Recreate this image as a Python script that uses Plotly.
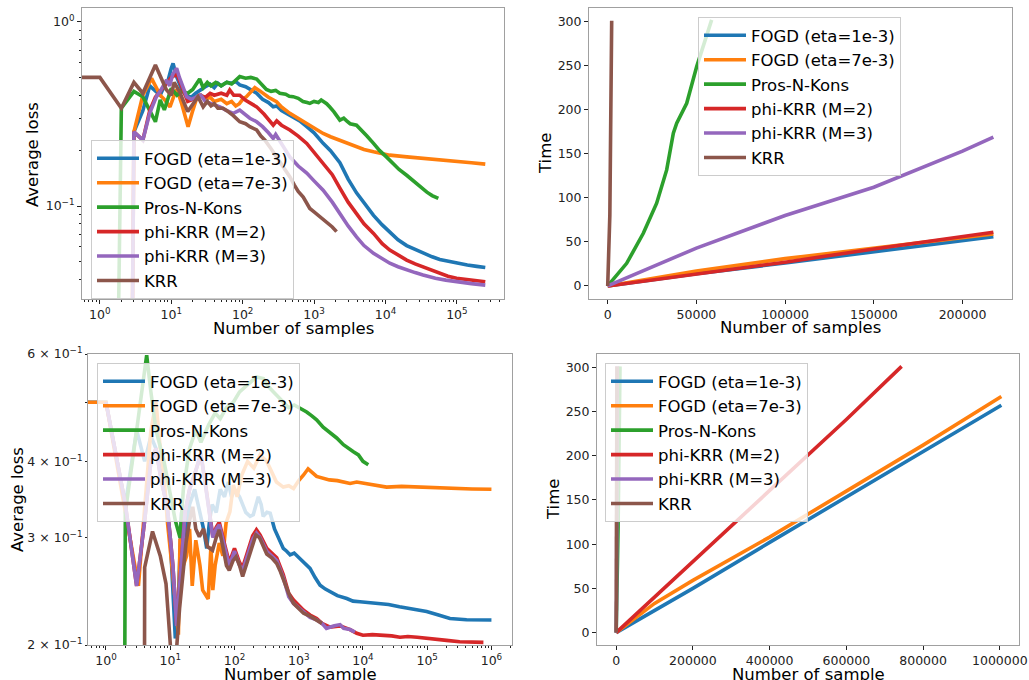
import plotly.graph_objects as go

NAMES = ["FOGD (eta=1e-3)", "FOGD (eta=7e-3)", "Pros-N-Kons", "phi-KRR (M=2)", "phi-KRR (M=3)", "KRR"]
COLORS = ["#1f77b4", "#ff7f0e", "#2ca02c", "#d62728", "#9467bd", "#8c564b"]
ZERO = 1e-9  # zero loss values (drawn as vertical drops on log axis)

# ---------------- Top-left: Average loss vs Number of samples ----------------
tl_fogd1_x = [3, 4, 5, 6, 7, 8, 9, 10, 10.6, 12, 14, 16, 19, 22, 26, 30, 35, 40, 45, 50, 60, 70, 80, 91, 110, 130, 157, 190, 230, 268, 300, 350, 400, 458, 530, 630, 790, 1000, 1340, 1700, 2300, 3000, 3930, 5000, 6800, 9000, 11500, 15000, 19800, 26000, 33600, 45000, 57600, 75000, 99000, 140000, 190000, 250000]
tl_fogd1_y = [0.253, 0.33, 0.45, 0.42, 0.40, 0.45, 0.48, 0.56, 0.596, 0.50, 0.43, 0.40, 0.39, 0.41, 0.43, 0.445, 0.46, 0.44, 0.465, 0.45, 0.47, 0.465, 0.475, 0.455, 0.445, 0.43, 0.41, 0.38, 0.365, 0.346, 0.35, 0.33, 0.32, 0.312, 0.30, 0.29, 0.27, 0.25, 0.219, 0.20, 0.172, 0.14, 0.118, 0.104, 0.089, 0.079, 0.072, 0.0655, 0.061, 0.058, 0.0553, 0.053, 0.0512, 0.050, 0.0489, 0.0478, 0.047, 0.0464]

tl_fogd7_x = [2, 3, 4, 5.3, 6, 7, 8, 9.6, 11, 12, 14, 17.2, 20, 22.7, 26, 30, 35, 40, 50, 60, 70, 80, 90, 100, 113, 130, 148, 170, 194, 230, 298, 350, 458, 600, 790, 1000, 1340, 1700, 2300, 3000, 3930, 5000, 6800, 9000, 11500, 20000, 33600, 60000, 99000, 160000, 250000]
tl_fogd7_y = [ZERO, 0.253, 0.40, 0.494, 0.45, 0.40, 0.38, 0.346, 0.40, 0.43, 0.36, 0.27, 0.33, 0.385, 0.40, 0.38, 0.39, 0.37, 0.38, 0.36, 0.37, 0.35, 0.36, 0.38, 0.393, 0.42, 0.44, 0.425, 0.41, 0.39, 0.369, 0.345, 0.319, 0.30, 0.282, 0.265, 0.248, 0.238, 0.228, 0.218, 0.21, 0.203, 0.197, 0.193, 0.189, 0.185, 0.182, 0.179, 0.176, 0.172, 0.169]

tl_pnk_x = [1, 2, 3, 4, 5, 6, 7, 8, 10, 12, 14, 17, 20, 25, 28, 32, 36, 42, 50, 60, 70, 80, 91, 110, 130, 157, 185, 215, 250, 290, 331, 400, 450, 510, 600, 700, 800, 872, 1000, 1150, 1260, 1500, 1650, 1900, 2300, 2600, 2860, 3200, 3930, 4800, 5500, 6800, 8300, 10300, 12900, 15500, 19800, 24500, 30600, 38000, 45000, 51700, 55000]
tl_pnk_y = [ZERO, 0.34, 0.42, 0.393, 0.33, 0.287, 0.377, 0.333, 0.436, 0.40, 0.42, 0.41, 0.43, 0.49, 0.44, 0.47, 0.45, 0.47, 0.45, 0.47, 0.46, 0.48, 0.505, 0.495, 0.50, 0.49, 0.46, 0.43, 0.42, 0.425, 0.41, 0.405, 0.395, 0.393, 0.385, 0.37, 0.365, 0.361, 0.37, 0.365, 0.377, 0.36, 0.346, 0.325, 0.293, 0.30, 0.29, 0.28, 0.275, 0.255, 0.24, 0.219, 0.20, 0.185, 0.17, 0.158, 0.147, 0.137, 0.127, 0.119, 0.114, 0.112, 0.110]

tl_phi2_x = [2, 3, 4, 5, 6, 8, 10, 12, 14, 17, 20, 25, 30, 35, 40, 50, 60, 66, 75, 91, 110, 157, 200, 268, 300, 350, 458, 600, 790, 1000, 1340, 1800, 2300, 3000, 3930, 5000, 6800, 9000, 11500, 15000, 19800, 26000, 33600, 45000, 57600, 75000, 99000, 150000, 250000]
tl_phi2_y = [ZERO, 0.253, 0.228, 0.33, 0.39, 0.45, 0.50, 0.52, 0.45, 0.37, 0.38, 0.40, 0.39, 0.41, 0.40, 0.41, 0.40, 0.427, 0.40, 0.40, 0.375, 0.346, 0.315, 0.275, 0.29, 0.275, 0.259, 0.24, 0.219, 0.195, 0.171, 0.148, 0.125, 0.105, 0.091, 0.08, 0.071, 0.0625, 0.0577, 0.054, 0.0509, 0.0485, 0.0468, 0.0448, 0.043, 0.0416, 0.0405, 0.0396, 0.0388]

tl_phi3_x = [2, 3, 4, 5, 6.2, 7, 8.6, 9.5, 10.5, 11.9, 13, 14.5, 16.4, 19, 22, 26, 30, 36, 42, 48, 60, 74, 91, 126, 157, 190, 230, 268, 290, 330, 380, 458, 600, 790, 1000, 1340, 1800, 2300, 3000, 3930, 5000, 6800, 9000, 11500, 15000, 19800, 26000, 33600, 50000, 70000, 99000, 160000, 250000]
tl_phi3_y = [ZERO, 0.253, 0.228, 0.32, 0.393, 0.42, 0.484, 0.45, 0.52, 0.56, 0.50, 0.44, 0.393, 0.38, 0.39, 0.40, 0.37, 0.36, 0.35, 0.346, 0.33, 0.319, 0.332, 0.30, 0.287, 0.27, 0.25, 0.233, 0.245, 0.225, 0.205, 0.185, 0.165, 0.151, 0.137, 0.122, 0.105, 0.091, 0.078, 0.068, 0.061, 0.0553, 0.0515, 0.0489, 0.0468, 0.0449, 0.0435, 0.0422, 0.0405, 0.0396, 0.0388, 0.0379, 0.0372]

tl_krr_x = [0.3, 1, 2, 3, 4, 6, 8.5, 10, 11, 13, 17, 18.2, 20, 23.7, 28, 32, 36, 40, 45, 53, 60, 74, 91, 110, 126, 157, 180, 205, 250, 298, 370, 459, 530, 600, 705, 872, 1000, 1210, 1580, 1800, 2065]
tl_krr_y = [0.5, 0.5, 0.34, 0.47, 0.41, 0.584, 0.43, 0.40, 0.47, 0.42, 0.326, 0.34, 0.36, 0.393, 0.346, 0.37, 0.35, 0.36, 0.34, 0.34, 0.33, 0.31, 0.287, 0.28, 0.27, 0.259, 0.24, 0.228, 0.205, 0.185, 0.165, 0.144, 0.13, 0.12, 0.112, 0.097, 0.093, 0.0875, 0.0806, 0.077, 0.0726]

# ---------------- Top-right: Time vs Number of samples ----------------
tr_fogd1_x = [0, 50000, 100000, 150000, 217400]
tr_fogd1_y = [0, 14, 26, 39, 56]
tr_fogd7_x = [0, 50000, 100000, 150000, 217400]
tr_fogd7_y = [0, 17, 31, 43, 59]
tr_pnk_x = [0, 10700, 20070, 27600, 33250, 37000, 38900, 44530, 50170, 58600]
tr_pnk_y = [0, 25.7, 59.8, 93.9, 131.7, 173.3, 184.7, 207.4, 249, 302]
tr_phi2_x = [0, 50000, 100000, 150000, 217400]
tr_phi2_y = [0, 13, 27, 42, 61]
tr_phi3_x = [0, 50000, 100000, 150000, 200000, 217400]
tr_phi3_y = [0, 43, 80, 112, 153, 169]
tr_krr_x = [0, 1200, 2250]
tr_krr_y = [0, 80, 301]

# ---------------- Bottom-left: Average loss vs Number of sample ----------------
bl_fogd1_x = [0.3, 1, 2, 3, 4, 5, 6, 8, 10, 12, 13, 15, 17, 20, 24, 29, 33, 37, 41, 45, 52, 60, 70, 80, 90, 100, 120, 150, 175, 196, 235, 260, 280, 320, 360, 420, 500, 575, 650, 735, 850, 1050, 1250, 1500, 1800, 2150, 2600, 3070, 4000, 5600, 7000, 9000, 12000, 18300, 25000, 37000, 60000, 98000, 150000, 226000, 410000, 1000000]
bl_fogd1_y = [0.5, 0.5, 0.34, 0.45, 0.40, 0.44, 0.42, 0.36, 0.30, 0.205, 0.22, 0.33, 0.30, 0.34, 0.36, 0.331, 0.31, 0.288, 0.32, 0.34, 0.33, 0.36, 0.35, 0.37, 0.35, 0.36, 0.35, 0.33, 0.325, 0.327, 0.35, 0.34, 0.325, 0.33, 0.329, 0.31, 0.298, 0.288, 0.285, 0.281, 0.283, 0.277, 0.272, 0.267, 0.258, 0.2507, 0.247, 0.2445, 0.241, 0.2384, 0.236, 0.2355, 0.235, 0.234, 0.233, 0.231, 0.229, 0.227, 0.224, 0.221, 0.22, 0.2198]

bl_fogd7_x = [0.3, 1, 3.2, 4, 5, 6, 7, 8, 9, 11, 13.4, 14.2, 16, 18, 20, 22, 25, 29, 32, 39, 43, 46, 50, 58, 66, 74, 85, 96, 110, 130, 160, 200, 250, 318, 380, 450, 575, 700, 830, 1000, 1190, 1400, 1900, 3000, 4000, 6300, 8000, 11500, 16000, 23300, 40000, 70000, 130000, 226000, 500000, 1000000]
bl_fogd7_y = [0.5, 0.5, 0.25, 0.33, 0.45, 0.5, 0.42, 0.38, 0.32, 0.26, 0.208, 0.299, 0.27, 0.28, 0.31, 0.25, 0.297, 0.27, 0.246, 0.238, 0.29, 0.246, 0.27, 0.294, 0.28, 0.317, 0.331, 0.366, 0.35, 0.38, 0.40, 0.39, 0.41, 0.40, 0.385, 0.37, 0.363, 0.365, 0.361, 0.372, 0.38, 0.389, 0.378, 0.373, 0.372, 0.368, 0.37, 0.368, 0.365, 0.363, 0.364, 0.363, 0.362, 0.361, 0.3605, 0.36]

bl_pnk_x = [1, 2, 3, 4.3, 5, 6, 8, 10, 12, 14.2, 16, 20, 25, 30, 40, 50, 60, 75, 96, 120, 175, 220, 282, 340, 405, 480, 575, 700, 850, 1050, 1330, 1600, 1900, 2400, 3070, 3900, 4960, 6250, 7100, 8500, 10000, 12100]
bl_pnk_y = [ZERO, 0.33, 0.45, 0.597, 0.52, 0.45, 0.40, 0.35, 0.32, 0.30, 0.36, 0.42, 0.45, 0.43, 0.46, 0.48, 0.47, 0.49, 0.50, 0.52, 0.54, 0.55, 0.547, 0.53, 0.52, 0.51, 0.50, 0.49, 0.495, 0.489, 0.482, 0.475, 0.468, 0.455, 0.446, 0.437, 0.426, 0.418, 0.415, 0.41, 0.40, 0.395]

bl_phi2_x = [1, 2, 3, 4, 5, 6, 7, 9.1, 11, 12.6, 14, 17, 20, 24, 30, 35, 40, 46, 52, 58, 70, 83, 100, 120, 134, 160, 192, 220, 250, 318, 455, 575, 700, 830, 1000, 1190, 1500, 1900, 2300, 3070, 4400, 6300, 8000, 10000, 14000, 20600, 28000, 37700, 50000, 70000, 100000, 140000, 200000, 320000, 500000, 750000]
bl_phi2_y = [0.5, 0.34, 0.25, 0.32, 0.40, 0.42, 0.38, 0.333, 0.27, 0.215, 0.25, 0.33, 0.36, 0.38, 0.41, 0.37, 0.335, 0.302, 0.312, 0.318, 0.293, 0.273, 0.288, 0.273, 0.268, 0.283, 0.302, 0.309, 0.303, 0.288, 0.278, 0.261, 0.243, 0.237, 0.232, 0.228, 0.224, 0.221, 0.217, 0.214, 0.215, 0.212, 0.209, 0.2075, 0.208, 0.2075, 0.207, 0.206, 0.2065, 0.206, 0.205, 0.204, 0.2035, 0.2025, 0.2025, 0.202]

bl_phi3_x = [1, 2, 3, 4, 5, 6, 7, 9.1, 11, 12.6, 14, 17, 20, 24, 30, 35, 40, 46, 52, 58, 70, 83, 100, 120, 134, 160, 192, 220, 250, 318, 455, 575, 700, 830, 1000, 1190, 1500, 1900, 2300, 2700, 3070, 3600, 4400, 5000, 6300, 7500]
bl_phi3_y = [0.5, 0.34, 0.25, 0.32, 0.40, 0.42, 0.38, 0.333, 0.27, 0.215, 0.25, 0.33, 0.36, 0.38, 0.413, 0.37, 0.33, 0.30, 0.31, 0.315, 0.29, 0.27, 0.285, 0.27, 0.265, 0.28, 0.298, 0.305, 0.30, 0.285, 0.275, 0.258, 0.24, 0.234, 0.23, 0.226, 0.222, 0.22, 0.217, 0.213, 0.214, 0.215, 0.216, 0.213, 0.212, 0.21]

bl_krr_x = [3, 4, 5.3, 7, 8.6, 10, 11, 12, 14, 17.6, 20, 22.4, 25, 28.4, 33, 38, 45.6, 52, 58, 66, 75, 83, 95, 106, 120, 134, 160, 192, 215, 245, 280, 318, 380, 455, 510, 575, 700, 830, 1000, 1190, 1500, 1900, 2300]
bl_krr_y = [ZERO, 0.268, 0.307, 0.28, 0.252, 0.19, 0.175, 0.185, 0.23, 0.294, 0.32, 0.337, 0.31, 0.301, 0.31, 0.29, 0.286, 0.30, 0.309, 0.29, 0.27, 0.265, 0.275, 0.279, 0.27, 0.259, 0.275, 0.294, 0.303, 0.30, 0.29, 0.282, 0.278, 0.272, 0.265, 0.2555, 0.243, 0.234, 0.229, 0.2255, 0.223, 0.22, 0.217]

# ---------------- Bottom-right: Time vs Number of sample ----------------
br_fogd1_x = [0, 200000, 400000, 600000, 800000, 1004000]
br_fogd1_y = [0, 50, 102, 153, 204, 257]
br_fogd7_x = [0, 100000, 200000, 400000, 600000, 800000, 1004000]
br_fogd7_y = [0, 33, 59, 108, 160, 212, 267]
br_pnk_x = [0, 5000, 10000]
br_pnk_y = [0, 120, 301]
br_phi2_x = [0, 100000, 200000, 400000, 600000, 744000]
br_phi2_y = [0, 40, 80, 160, 241, 301]
br_phi3_x = [0, 1000, 2500]
br_phi3_y = [0, 40, 301]
br_krr_x = [0, 1000, 2000]
br_krr_y = [0, 100, 301]

# tick labels
log_x_ticks_top = [1, 10, 100, 1000, 10000, 100000]
log_x_ticks_bot = [1, 10, 100, 1000, 10000, 100000, 1000000]
tl_y_ticks = [0.1, 1]
tl_y_text = ["10<sup>−1</sup>", "10<sup>0</sup>"]
bl_y_ticks = [0.2, 0.3, 0.4, 0.5, 0.6]
bl_y_text = ["2 × 10<sup>−1</sup>", "3 × 10<sup>−1</sup>", "4 × 10<sup>−1</sup>", "", "6 × 10<sup>−1</sup>"]
tr_x_ticks = [0, 50000, 100000, 150000, 200000]
br_x_ticks = [0, 200000, 400000, 600000, 800000, 1000000]
time_y_ticks = [0, 50, 100, 150, 200, 250, 300]


def pow10_text(vals):
    import math
    return ["10<sup>%d</sup>" % round(math.log10(v)) for v in vals]


panels = [
    ("x", "y", "legend", [(tl_fogd1_x, tl_fogd1_y), (tl_fogd7_x, tl_fogd7_y), (tl_pnk_x, tl_pnk_y),
                          (tl_phi2_x, tl_phi2_y), (tl_phi3_x, tl_phi3_y), (tl_krr_x, tl_krr_y)]),
    ("x2", "y2", "legend2", [(tr_fogd1_x, tr_fogd1_y), (tr_fogd7_x, tr_fogd7_y), (tr_pnk_x, tr_pnk_y),
                             (tr_phi2_x, tr_phi2_y), (tr_phi3_x, tr_phi3_y), (tr_krr_x, tr_krr_y)]),
    ("x3", "y3", "legend3", [(bl_fogd1_x, bl_fogd1_y), (bl_fogd7_x, bl_fogd7_y), (bl_pnk_x, bl_pnk_y),
                             (bl_phi2_x, bl_phi2_y), (bl_phi3_x, bl_phi3_y), (bl_krr_x, bl_krr_y)]),
    ("x4", "y4", "legend4", [(br_fogd1_x, br_fogd1_y), (br_fogd7_x, br_fogd7_y), (br_pnk_x, br_pnk_y),
                             (br_phi2_x, br_phi2_y), (br_phi3_x, br_phi3_y), (br_krr_x, br_krr_y)]),
]

fig = go.Figure()
for xa, ya, lg, series in panels:
    for i, (xs, ys) in enumerate(series):
        fig.add_trace(go.Scatter(x=xs, y=ys, mode="lines", name=NAMES[i],
                                 line=dict(color=COLORS[i], width=3.6),
                                 xaxis=xa, yaxis=ya, legend=lg))

FONT = "DejaVu Sans"
SPINE = "#a0a0a0"
TICKC = "#222222"
W, H = 1029, 680

minor_log = [m * 10 ** k for k in range(-2, 7) for m in range(2, 10)]


def dom(a, b, total):
    return [a / total, b / total]


def ydom(top, bottom):
    return [1 - bottom / H, 1 - top / H]


common = dict(showline=True, linecolor=SPINE, linewidth=1, mirror=True, showgrid=False, zeroline=False,
              automargin=False, ticklabeloverflow="allow",
              ticks="outside", ticklen=4, tickcolor=TICKC, tickwidth=1,
              tickfont=dict(family=FONT, size=12.5, color=TICKC))
minor_style = dict(ticks="outside", ticklen=2, tickcolor=TICKC, tickwidth=0.8, tickmode="array", showgrid=False)

fig.update_layout(
    template="none",
    width=W, height=H, margin=dict(l=0, r=0, t=0, b=0, autoexpand=False),
    paper_bgcolor="white", plot_bgcolor="white",
    font=dict(family=FONT, color="#000000"),
    # top-left
    xaxis=dict(common, type="log", domain=dom(82, 504, W), anchor="y", range=[-0.25, 5.66],
               tickmode="array", tickvals=log_x_ticks_top, ticktext=pow10_text(log_x_ticks_top),
               minor=dict(minor_style, tickvals=minor_log)),
    yaxis=dict(common, type="log", domain=ydom(8, 299), anchor="x", range=[-1.505, 0.076],
               tickmode="array", tickvals=tl_y_ticks, ticktext=tl_y_text,
               minor=dict(minor_style, tickvals=minor_log)),
    # top-right
    xaxis2=dict(common, domain=dom(589, 1012, W), anchor="y2", range=[-10540, 227900],
                tickmode="array", tickvals=tr_x_ticks, ticktext=[str(v) for v in tr_x_ticks]),
    yaxis2=dict(common, domain=ydom(8, 299), anchor="x2", range=[-14.8, 315.5],
                tickmode="array", tickvals=time_y_ticks),
    # bottom-left
    xaxis3=dict(common, type="log", domain=dom(88, 512, W), anchor="y3", range=[-0.28, 6.32],
                tickmode="array", tickvals=log_x_ticks_bot, ticktext=pow10_text(log_x_ticks_bot),
                minor=dict(minor_style, tickvals=minor_log)),
    yaxis3=dict(common, type="log", domain=ydom(354, 645), anchor="x3", range=[-0.69897, -0.22185],
                tickmode="array", tickvals=bl_y_ticks, ticktext=bl_y_text, ticklen=2),
    # bottom-right
    xaxis4=dict(common, domain=dom(597, 1019, W), anchor="y4", range=[-50000, 1050000],
                tickmode="array", tickvals=br_x_ticks, ticktext=[str(v) for v in br_x_ticks]),
    yaxis4=dict(common, domain=ydom(354, 645), anchor="x4", range=[-14, 315],
                tickmode="array", tickvals=time_y_ticks),
)

# axis titles (placed as paper-anchored text)
TITLE_FONT = dict(family=FONT, size=16.5, color="#000000")
axis_titles = [
    ("Number of samples", 293, 328, 0),
    ("Number of samples", 800, 327, 0),
    ("Average loss", 33, 155, -90),
    ("Time", 546, 154, -90),
    ("Number of sample", 300, 674, 0),
    ("Number of sample", 808, 674, 0),
    ("Average loss", 17, 500, -90),
    ("Time", 553, 500, -90),
]
for text, px, py, ang in axis_titles:
    fig.add_annotation(text=text, x=px / W, y=1 - py / H, xref="paper", yref="paper",
                       xanchor="center", yanchor="middle", showarrow=False, textangle=ang,
                       font=TITLE_FONT)

leg_common = dict(bgcolor="rgba(255,255,255,0.8)", bordercolor="#cccccc", borderwidth=1,
                  font=dict(family=FONT, size=16.5, color="#000000"), itemwidth=42,
                  xanchor="left", yanchor="top", xref="paper", yref="paper")
fig.update_layout(
    legend=dict(leg_common, x=91 / W, y=1 - 140 / H),
    legend2=dict(leg_common, x=698 / W, y=1 - 17 / H),
    legend3=dict(leg_common, x=97 / W, y=1 - 363 / H),
    legend4=dict(leg_common, x=605 / W, y=1 - 363 / H),
)

fig.write_html("out.html", config={"displayModeBar": False},
               post_script="document.body.style.margin='0';document.body.style.overflow='hidden';")
